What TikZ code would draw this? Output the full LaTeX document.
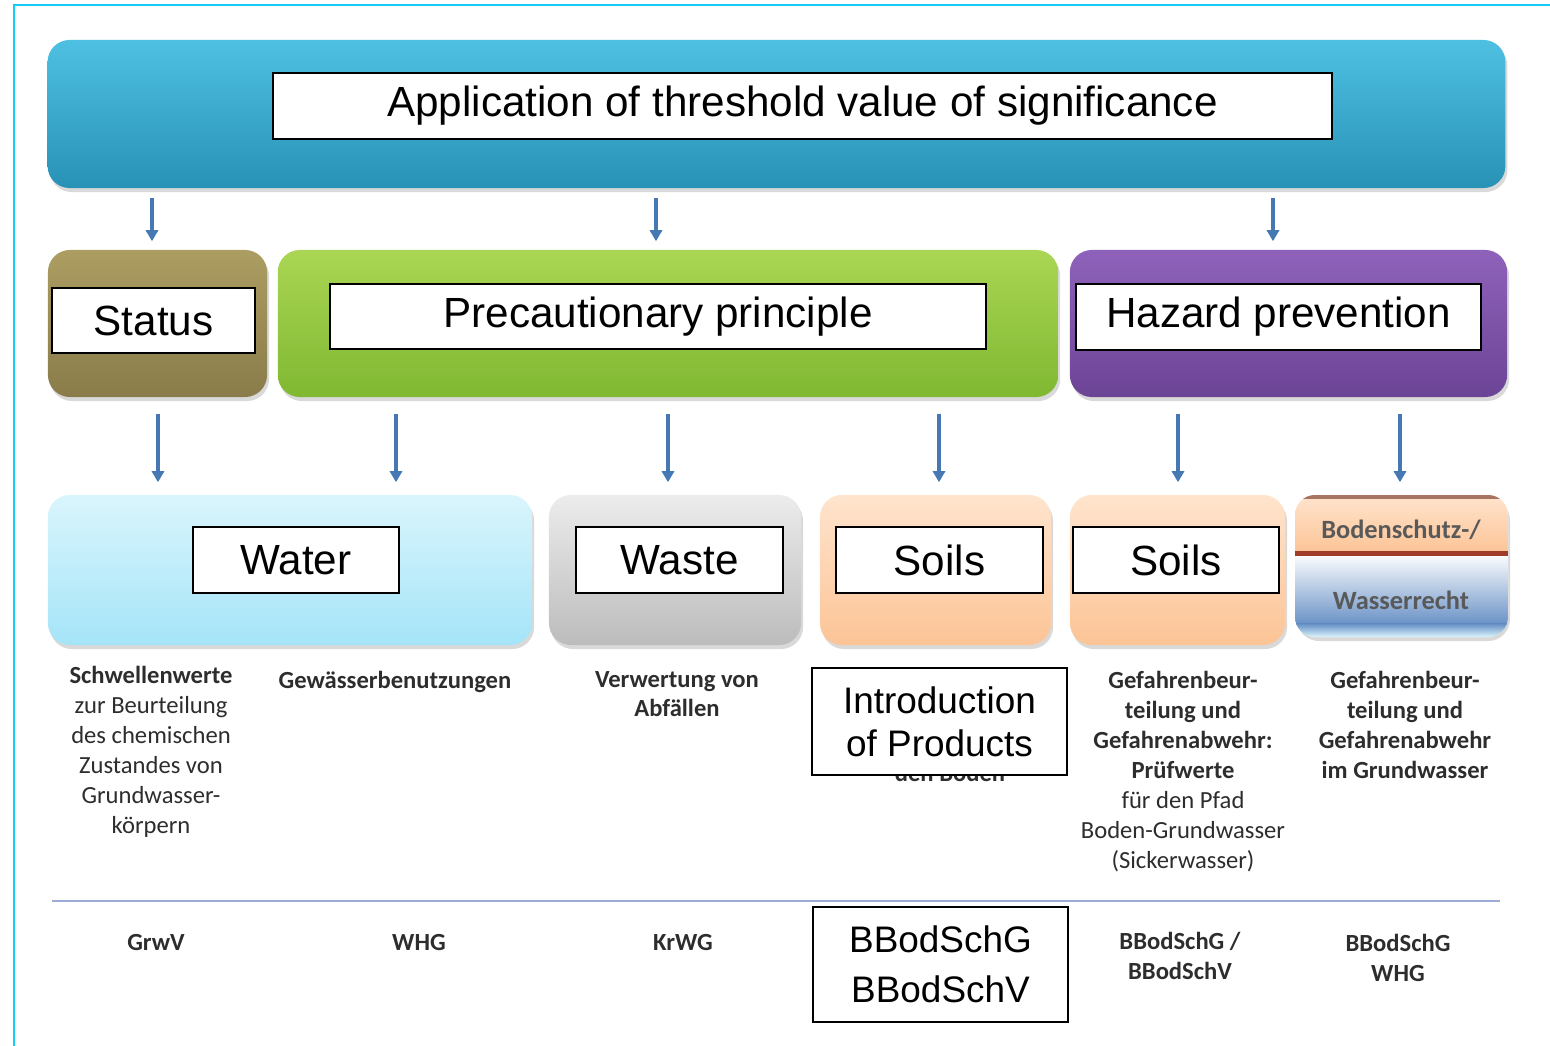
\documentclass[tikz,border=0pt]{standalone}
\usepackage{fontspec}
\setmainfont{Liberation Sans}
\newfontfamily\calibri{Carlito}
\usetikzlibrary{arrows.meta,shadows}
\definecolor{rahmen}{RGB}{20,205,245}
\definecolor{tuerkisoben}{RGB}{78,192,226}
\definecolor{tuerkisunten}{RGB}{40,146,182}
\definecolor{olivoben}{RGB}{172,157,98}
\definecolor{olivunten}{RGB}{138,124,74}
\definecolor{gruenoben}{RGB}{170,214,84}
\definecolor{gruenunten}{RGB}{128,184,50}
\definecolor{lilaoben}{RGB}{142,98,186}
\definecolor{lilaunten}{RGB}{108,68,150}
\definecolor{hellblau}{RGB}{218,245,252}
\definecolor{wasserblau}{RGB}{165,228,248}
\definecolor{grauoben}{RGB}{236,236,236}
\definecolor{grauunten}{RGB}{188,188,188}
\definecolor{pfirsichhell}{RGB}{255,228,205}
\definecolor{pfirsich}{RGB}{252,196,150}
\definecolor{braunrot}{RGB}{160,60,40}
\definecolor{rechtblau}{RGB}{105,145,198}
\definecolor{pfeilblau}{RGB}{70,120,180}
\definecolor{linie}{RGB}{158,172,212}
\definecolor{schrift}{RGB}{45,45,45}

\tikzset{
  kasten/.style={rounded corners=0.22cm, drop shadow={opacity=0.3, shadow xshift=0.02cm, shadow yshift=-0.04cm}},
  etikett/.style={draw=black, fill=white, line width=0.6pt, inner sep=0pt, font=\fontsize{12}{14}\selectfont},
  pfeil/.style={draw=pfeilblau, line width=0.9pt, -{Triangle[length=0.11cm,width=0.12cm]}},
  klein/.style={font=\calibri\fontsize{7}{8.53}\selectfont, text=schrift, align=center, inner sep=0pt},
}

\begin{document}
\begin{tikzpicture}[x=0.01cm, y=-0.01cm]
    \useasboundingbox (0,0) rectangle (1550,1046);

    % Rahmen oben und links
    \draw[rahmen, line width=0.6pt] (14,1046) -- (14,5) -- (1550,5);

    % Oberer Balken
    \node[kasten, top color=tuerkisoben, bottom color=tuerkisunten, minimum width=14.57cm, minimum height=1.48cm] (balken) at (776.5,114) {};
    \node[etikett, minimum width=10.59cm, minimum height=0.66cm] (titel) at (802.5,106) {Application of threshold value of significance};

    % Zweite Reihe
    \node[kasten, top color=olivoben, bottom color=olivunten, minimum width=2.19cm, minimum height=1.47cm] (status) at (157.5,323.5) {};
    \node[etikett, minimum width=2.03cm, minimum height=0.65cm] (statuslabel) at (153.5,320.5) {Status};
    \node[kasten, top color=gruenoben, bottom color=gruenunten, minimum width=7.80cm, minimum height=1.47cm] (vorsorge) at (668,323.5) {};
    \node[etikett, minimum width=6.56cm, minimum height=0.65cm] (vorsorgelabel) at (658,316.5) {Precautionary principle};
    \node[kasten, top color=lilaoben, bottom color=lilaunten, minimum width=4.37cm, minimum height=1.47cm] (gefahr) at (1288.5,323.5) {};
    \node[etikett, minimum width=4.05cm, minimum height=0.66cm] (gefahrlabel) at (1278.5,317) {Hazard prevention};

    % Dritte Reihe
    \node[kasten, top color=hellblau, bottom color=wasserblau, minimum width=4.84cm, minimum height=1.50cm] (wasser) at (290,570) {};
    \node[etikett, minimum width=2.06cm, minimum height=0.66cm] (wasserlabel) at (296,560) {Water};
    \node[kasten, top color=grauoben, bottom color=grauunten, minimum width=2.52cm, minimum height=1.50cm] (abfall) at (675,570) {};
    \node[etikett, minimum width=2.07cm, minimum height=0.66cm] (abfalllabel) at (679.5,560) {Waste};
    \node[kasten, top color=pfirsichhell, bottom color=pfirsich, minimum width=2.31cm, minimum height=1.50cm] (boden) at (935.5,570) {};
    \node[etikett, minimum width=2.07cm, minimum height=0.66cm] (bodenlabel) at (939.5,560) {Soils};
    \node[kasten, top color=pfirsichhell, bottom color=pfirsich, minimum width=2.15cm, minimum height=1.50cm] (bodenzwei) at (1177.5,570) {};
    \node[etikett, minimum width=2.06cm, minimum height=0.66cm] (bodenzweilabel) at (1176,560) {Soils};

    % Bodenschutz-/Wasserrecht, oben pfirsich, unten blau
    \node[kasten, fill=white, minimum width=2.13cm, minimum height=1.42cm] (recht) at (1401.5,566) {};
    \begin{scope}
        \clip[rounded corners=0.2cm] (1295,495) rectangle (1508,637);
        \shade[top color=pfirsichhell, bottom color=pfirsich] (1295,495) rectangle (1508,553);
        \shade[top color=white, bottom color=rechtblau] (1295,553) rectangle (1508,625);
        \shade[top color=rechtblau, bottom color=hellblau] (1295,624) rectangle (1508,637);
        \fill[braunrot!70!black, opacity=0.6] (1295,495) rectangle (1508,499);
        \fill[braunrot] (1295,551) rectangle (1508,556);
    \end{scope}
    \node[klein, font=\calibri\bfseries\fontsize{7.5}{9}\selectfont, text=black!65] (rechtoben) at (1401,530) {Bodenschutz-/};
    \node[klein, font=\calibri\bfseries\fontsize{7.5}{9}\selectfont, text=black!65] (rechtunten) at (1401,600) {Wasserrecht};

    % Pfeile
    \coordinate (xa) at (152,0);
    \coordinate (xb) at (656,0);
    \coordinate (xc) at (1273,0);
    \draw[pfeil, shorten <=0.09cm, shorten >=0.08cm] (balken.south -| xa) -- (status.north -| xa);
    \draw[pfeil, shorten <=0.09cm, shorten >=0.08cm] (balken.south -| xb) -- (vorsorge.north -| xb);
    \draw[pfeil, shorten <=0.09cm, shorten >=0.08cm] (balken.south -| xc) -- (gefahr.north -| xc);

    \coordinate (xd) at (158,0);
    \coordinate (xe) at (396,0);
    \coordinate (xf) at (668,0);
    \coordinate (xg) at (939,0);
    \coordinate (xh) at (1178,0);
    \coordinate (xi) at (1400,0);
    \draw[pfeil, shorten <=0.16cm, shorten >=0.12cm] (status.south -| xd) -- (wasser.north -| xd);
    \draw[pfeil, shorten <=0.16cm, shorten >=0.12cm] (vorsorge.south -| xe) -- (wasser.north -| xe);
    \draw[pfeil, shorten <=0.16cm, shorten >=0.12cm] (vorsorge.south -| xf) -- (abfall.north -| xf);
    \draw[pfeil, shorten <=0.16cm, shorten >=0.12cm] (vorsorge.south -| xg) -- (boden.north -| xg);
    \draw[pfeil, shorten <=0.16cm, shorten >=0.12cm] (gefahr.south -| xh) -- (bodenzwei.north -| xh);
    \draw[pfeil, shorten <=0.16cm, shorten >=0.12cm] (gefahr.south -| xi) -- (recht.north -| xi);

    % Beschreibungen
    \node[klein, anchor=north] (schwelle) at (151,666) {\textbf{Schwellenwerte}\\zur Beurteilung\\des chemischen\\Zustandes von\\Grundwasser-\\körpern};
    \node[klein, anchor=north, font=\calibri\bfseries\fontsize{7}{8.53}\selectfont] (benutzung) at (395,671) {Gewässerbenutzungen};
    \node[klein, anchor=north, font=\calibri\bfseries\fontsize{7}{8.3}\selectfont] (verwertung) at (677,671) {Verwertung von\\Abfällen};
    \node[klein, font=\calibri\bfseries\fontsize{7}{8.53}\selectfont] (rest) at (950,773) {den Boden};
    \node[etikett, font=\fontsize{10.5}{12.2}\selectfont, align=center, minimum width=2.55cm, minimum height=1.07cm] (einbringen) at (939.5,721.5) {Introduction\\of Products};
    \node[klein, anchor=north] (pruefwerte) at (1183,671) {\textbf{Gefahrenbeur-}\\\textbf{teilung und}\\\textbf{Gefahrenabwehr:}\\\textbf{Prüfwerte}\\für den Pfad\\Boden-Grundwasser\\(Sickerwasser)};
    \node[klein, anchor=north, font=\calibri\bfseries\fontsize{7}{8.53}\selectfont] (grundwasser) at (1405,671) {Gefahrenbeur-\\teilung und\\Gefahrenabwehr\\im Grundwasser};

    % Trennlinie
    \draw[linie, line width=0.85pt] (52,901) -- (1500,901);

    % Gesetze
    \node[klein, font=\calibri\bfseries\fontsize{7}{8.53}\selectfont] (grwv) at (156,943) {GrwV};
    \node[klein, font=\calibri\bfseries\fontsize{7}{8.53}\selectfont] (whg) at (419,943) {WHG};
    \node[klein, font=\calibri\bfseries\fontsize{7}{8.53}\selectfont] (krwg) at (683,943) {KrWG};
    \node[etikett, font=\fontsize{10.5}{14.2}\selectfont, align=center, minimum width=2.55cm, minimum height=1.15cm] (gesetz) at (940.5,964.5) {BBodSchG\\BBodSchV};
    \node[klein, font=\calibri\bfseries\fontsize{7}{8.53}\selectfont] (bbodschv) at (1180,956) {BBodSchG /\\BBodSchV};
    \node[klein, font=\calibri\bfseries\fontsize{7}{8.53}\selectfont] (bbodschg) at (1398,958) {BBodSchG\\WHG};
\end{tikzpicture}
\end{document}
